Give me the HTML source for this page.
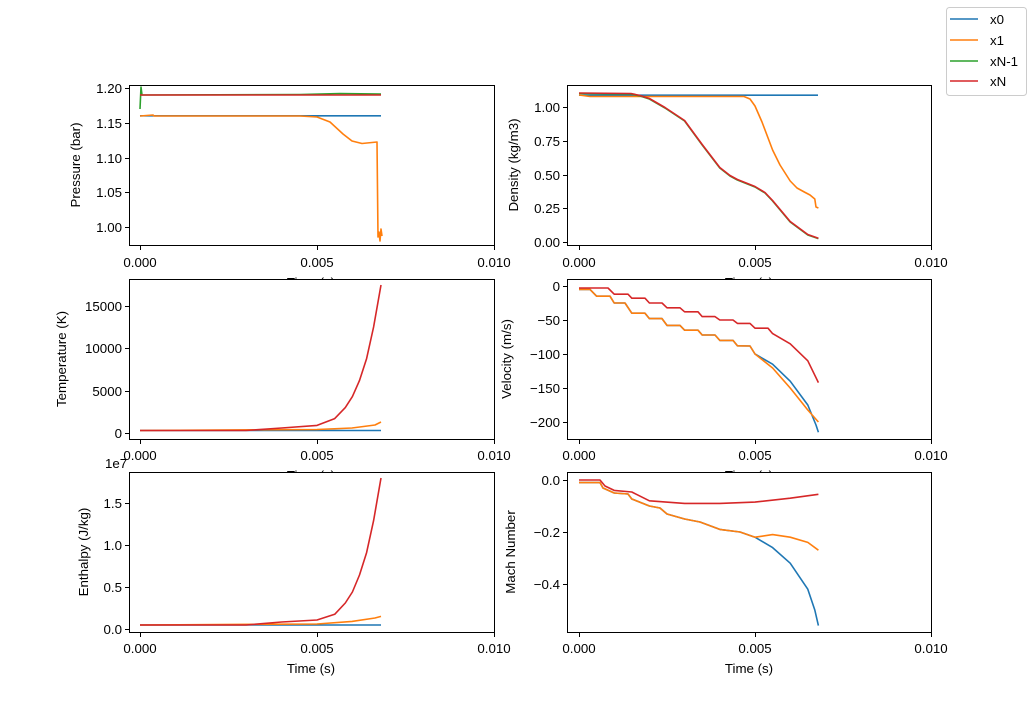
<!DOCTYPE html><html><head><style>body{margin:0;background:#fff}svg{display:block}text{font-family:"Liberation Sans",sans-serif;font-size:13.3px;fill:#000}</style></head><body>
<svg width="1035" height="711" viewBox="0 0 1035 711" xmlns="http://www.w3.org/2000/svg">
<!-- Time labels (partially hidden) -->
<text x="311" y="287" text-anchor="middle">Time (s)</text>
<text x="749" y="287" text-anchor="middle">Time (s)</text>
<text x="311" y="480" text-anchor="middle">Time (s)</text>
<text x="749" y="480" text-anchor="middle">Time (s)</text>
<text x="311" y="673" text-anchor="middle">Time (s)</text>
<text x="749" y="673" text-anchor="middle">Time (s)</text>
<g fill="#fff" stroke="none">
<rect x="129.5" y="85.5" width="365" height="160" />
<rect x="567.5" y="85.5" width="364" height="160"/>
<rect x="129.5" y="279.5" width="365" height="160"/>
<rect x="567.5" y="279.5" width="364" height="160"/>
<rect x="129.5" y="472.5" width="365" height="160"/>
<rect x="567.5" y="472.5" width="364" height="160"/>
</g>
<g fill="none" stroke-width="1.6" stroke-linejoin="round">
<!-- Pressure -->
<polyline stroke="#1f77b4" points="140,115.8 381,115.8"/>
<polyline stroke="#2ca02c" points="140,109 141,87 142,95 300,94.5 340,93.5 381,94"/>
<polyline stroke="#d62728" points="140,95 381,95"/>
<polyline stroke="#ff7f0e" points="140,116 153,115 154,116 300,116 317,117 330,122 343,134 352,141 362,143.5 372,142.5 377,142 378,237 379,232 380,241 381,229 382,236"/>
<!-- Density -->
<polyline stroke="#1f77b4" points="579,95.2 818,95.2"/>
<polyline stroke="#ff7f0e" points="579,95 590,96.5 744,96.5 750,99 755,106 762,122 772.6,150 780,165 790.2,181 797,188 804.3,192 810,195 814.8,199 816,207 818.4,208"/>
<polyline stroke="#2ca02c" points="579,93.5 631,94 640,96 649.4,99 665,108 684.6,121 702.2,145 719.8,168 730,176 737.4,180 755,187 765,193 772.6,201 790.2,222 807.8,235 818.4,238.6"/>
<polyline stroke="#d62728" points="579,93 631,93.5 640,95.5 649.4,98.5 665,107.5 684.6,120.5 702.2,144.5 719.8,167.5 730,175.5 737.4,179.5 755,186.5 765,192.5 772.6,200.5 790.2,221.5 807.8,234.5 818.4,238.2"/>
<!-- Temperature -->
<polyline stroke="#1f77b4" points="140,430.5 381,430.5"/>
<polyline stroke="#ff7f0e" points="140,430.5 317,429.5 352,428 375,425 381,422"/>
<polyline stroke="#d62728" points="140,430.5 246,430.5 281.6,428 317,425.4 334.7,418.6 345.3,407.6 352.4,396.6 359.5,380.5 366.6,358.6 373.6,327 381,285"/>
<!-- Velocity -->
<polyline stroke="#1f77b4" points="579,289.4 590,289.4 596.6,296.2 610,296.2 614.2,303 625,303 631.8,313.2 645,313.2 649.4,318.6 662,318.6 667,325.4 680,325.4 684.6,330.2 698,330.2 702.2,335 715,335 719.8,340.4 733,340.4 737.4,345.8 750,346 755,354 772.6,364.2 790.2,381.2 807.8,405 816,425 818.4,432.2"/>
<polyline stroke="#ff7f0e" points="579,289.4 590,289.4 596.6,296.2 610,296.2 614.2,303 625,303 631.8,313.2 645,313.2 649.4,318.6 662,318.6 667,325.4 680,325.4 684.6,330.2 698,330.2 702.2,335 715,335 719.8,340.4 733,340.4 737.4,345.8 750,346 755,354 772.6,368 790.2,388 807.8,410 818.4,422"/>
<polyline stroke="#d62728" points="579,288 608,288 614.2,294.2 628,294.2 631.8,298.2 645,298.2 649.4,303 662,303 667,307.8 680,307.8 684.6,311.8 698,311.8 702.2,316.6 715,316.6 719.8,320 733,320 737.4,323.4 750,323.4 755,328.2 768,328.2 772.6,333.6 790.2,343.8 807.8,360.8 818.4,382.6"/>
<!-- Enthalpy -->
<polyline stroke="#1f77b4" points="140,625 381,625"/>
<polyline stroke="#ff7f0e" points="140,625 317,624 352,621.4 375,618 381,616.4"/>
<polyline stroke="#d62728" points="140,625 246,625 281.6,622 317,620 334.7,614.3 345.3,603 352.4,592 359.5,575 366.6,552.6 373.6,520.6 381,478"/>
<!-- Mach -->
<polyline stroke="#1f77b4" points="579,482.6 600,482.6 603,488 614.2,493 628,494 631.8,499 649.4,506 660,508 667,514 684.6,519 700,522 719.8,529.4 740,532 755,537.2 772.6,547.6 790.2,563.2 807.8,589.2 814.8,610 818.4,625.6"/>
<polyline stroke="#ff7f0e" points="579,482.6 600,482.6 603,488 614.2,493 628,494 631.8,499 649.4,506 660,508 667,514 684.6,519 700,522 719.8,529.4 740,532 755,537.2 772.6,534.6 790.2,537.2 807.8,542.4 818.4,550.2"/>
<polyline stroke="#d62728" points="579,480 600,480 605,486 614.2,490.4 631.8,492 649.4,500.8 684.6,503.4 719.8,503.4 755,502.1 790.2,498.2 818.4,494.3"/>
</g>
<g fill="none" stroke="#000" stroke-width="1">
<rect x="129.5" y="85.5" width="365" height="160" />
<rect x="567.5" y="85.5" width="364" height="160"/>
<rect x="129.5" y="279.5" width="365" height="160"/>
<rect x="567.5" y="279.5" width="364" height="160"/>
<rect x="129.5" y="472.5" width="365" height="160"/>
<rect x="567.5" y="472.5" width="364" height="160"/>
</g>
<g stroke="#000" stroke-width="1">
<path d="M140.5,246v4M317.5,246v4M494.5,246v4M140.5,440v4M317.5,440v4M494.5,440v4M140.5,633v4M317.5,633v4M494.5,633v4"/>
<path d="M579.5,246v4M755.5,246v4M931.5,246v4M579.5,440v4M755.5,440v4M931.5,440v4M579.5,633v4M755.5,633v4M931.5,633v4"/>
<path d="M125,88.5h4M125,123.5h4M125,158.5h4M125,192.5h4M125,227.5h4"/>
<path d="M563,107.5h4M563,141.5h4M563,175.5h4M563,208.5h4M563,242.5h4"/>
<path d="M125,306.5h4M125,348.5h4M125,391.5h4M125,433.5h4"/>
<path d="M563,286.5h4M563,320.5h4M563,354.5h4M563,388.5h4M563,422.5h4"/>
<path d="M125,503.5h4M125,545.5h4M125,587.5h4M125,629.5h4"/>
<path d="M563,480.5h4M563,532.5h4M563,584.5h4"/>
</g>
<g text-anchor="middle">
<text x="140" y="267">0.000</text><text x="317" y="267">0.005</text><text x="494" y="267">0.010</text>
<text x="140" y="460">0.000</text><text x="317" y="460">0.005</text><text x="494" y="460">0.010</text>
<text x="140" y="653">0.000</text><text x="317" y="653">0.005</text><text x="494" y="653">0.010</text>
<text x="579" y="267">0.000</text><text x="755" y="267">0.005</text><text x="931" y="267">0.010</text>
<text x="579" y="460">0.000</text><text x="755" y="460">0.005</text><text x="931" y="460">0.010</text>
<text x="579" y="653">0.000</text><text x="755" y="653">0.005</text><text x="931" y="653">0.010</text>
</g>
<g text-anchor="end">
<text x="122" y="93">1.20</text><text x="122" y="128">1.15</text><text x="122" y="163">1.10</text><text x="122" y="197">1.05</text><text x="122" y="232">1.00</text>
<text x="560" y="112">1.00</text><text x="560" y="146">0.75</text><text x="560" y="180">0.50</text><text x="560" y="213">0.25</text><text x="560" y="247">0.00</text>
<text x="122" y="311">15000</text><text x="122" y="353">10000</text><text x="122" y="396">5000</text><text x="122" y="438">0</text>
<text x="560" y="291">0</text><text x="560" y="325">−50</text><text x="560" y="359">−100</text><text x="560" y="393">−150</text><text x="560" y="427">−200</text>
<text x="122" y="508">1.5</text><text x="122" y="550">1.0</text><text x="122" y="592">0.5</text><text x="122" y="634">0.0</text>
<text x="560" y="485">0.0</text><text x="560" y="537">−0.2</text><text x="560" y="589">−0.4</text>
</g>
<text x="105" y="468">1e7</text>
<g text-anchor="middle">
<text transform="translate(80,165) rotate(-90)">Pressure (bar)</text>
<text transform="translate(518,165) rotate(-90)">Density (kg/m3)</text>
<text transform="translate(66,359) rotate(-90)">Temperature (K)</text>
<text transform="translate(511,359) rotate(-90)">Velocity (m/s)</text>
<text transform="translate(88,552) rotate(-90)">Enthalpy (J/kg)</text>
<text transform="translate(515,552) rotate(-90)">Mach Number</text>
</g>
<rect x="946.5" y="7.5" width="80" height="88" rx="3" fill="#fff" stroke="#ccc"/>
<g stroke-width="1.6"><path d="M950,19h28" stroke="#1f77b4"/><path d="M950,40h28" stroke="#ff7f0e"/><path d="M950,61h28" stroke="#2ca02c"/><path d="M950,81h28" stroke="#d62728"/></g>
<text x="990" y="24">x0</text><text x="990" y="45">x1</text><text x="990" y="66">xN-1</text><text x="990" y="86">xN</text>
</svg>
</body></html>
